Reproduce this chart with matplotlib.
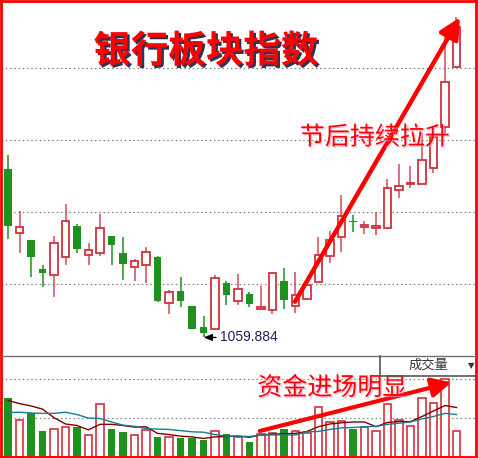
import numpy as np
import matplotlib
matplotlib.use('Agg')
import matplotlib.pyplot as plt
import matplotlib.patheffects as pe

plt.rcParams['font.family'] = ['Noto Sans CJK SC', 'DejaVu Sans']

# daily bars of the bank sector index
opens = [1176.9, 1132.2, 1127.6, 1107.4, 1103.0, 1115.5, 1137.3, 1116.9, 1118.3, 1130.3,
         1118.5, 1108.6, 1110.0, 1115.7, 1083.6, 1092.1, 1081.7, 1067.1, 1065.5, 1097.7,
         1085.0, 1090.1, 1079.8, 1078.7, 1099.1, 1081.7, 1086.4, 1098.2, 1116.2, 1129.4,
         1140.5, 1136.4, 1135.7, 1136.1, 1162.1, 1166.2, 1166.2, 1177.3, 1205.8, 1247.5]
highs = [1186.6, 1147.7, 1127.6, 1110.2, 1130.3, 1152.6, 1138.7, 1125.5, 1145.6, 1130.3,
         1129.6, 1114.4, 1122.7, 1116.7, 1092.6, 1101.9, 1081.7, 1074.8, 1103.0, 1099.1,
         1103.9, 1091.4, 1095.6, 1105.3, 1107.9, 1105.3, 1096.3, 1129.6, 1134.0, 1158.8,
         1144.9, 1140.7, 1147.0, 1169.7, 1180.1, 1178.9, 1201.9, 1199.3, 1274.6, 1282.6]
lows = [1128.0, 1118.7, 1102.1, 1095.1, 1088.2, 1110.2, 1118.7, 1110.2, 1116.7, 1110.2,
        1099.8, 1099.3, 1097.9, 1084.7, 1076.0, 1081.2, 1066.0, 1059.884, 1065.4, 1082.6,
        1082.6, 1080.8, 1078.9, 1076.4, 1079.6, 1076.7, 1086.4, 1098.2, 1111.8, 1119.4,
        1132.9, 1131.9, 1131.2, 1135.0, 1156.9, 1163.5, 1166.2, 1174.3, 1201.9, 1247.5]
closes = [1137.5, 1136.4, 1116.0, 1104.8, 1125.3, 1140.5, 1121.5, 1120.4, 1135.7, 1124.3,
          1111.1, 1112.8, 1119.0, 1085.2, 1091.4, 1085.4, 1066.0, 1063.2, 1101.0, 1089.6,
          1093.3, 1082.9, 1080.8, 1104.6, 1086.1, 1089.4, 1096.3, 1116.9, 1127.6, 1144.0,
          1140.1, 1137.8, 1137.1, 1163.5, 1164.8, 1166.9, 1182.9, 1199.3, 1237.1, 1275.3]

# volume and its two moving averages
volume = [151, 94, 112, 67, 71, 77, 77, 56, 135, 72, 65, 56, 69, 52, 51, 49, 49, 44, 67, 59,
          52, 39, 59, 61, 72, 66, 61, 128, 89, 93, 73, 78, 67, 135, 94, 79, 150, 138, 200, 67]
vol_ma5 = [145, 137, 131, 123, 101, 85, 81, 70, 84, 84, 81, 77, 78, 61, 58, 54, 52, 48, 52, 53,
           54, 51, 57, 59, 60, 61, 66, 78, 85, 88, 90, 90, 78, 89, 91, 91, 104, 118, 132, 127]
vol_ma10 = [114, 115, 113, 112, 112, 115, 109, 100, 99, 90, 82, 79, 73, 72, 71, 68, 65, 64, 58, 54,
            54, 53, 57, 57, 57, 57, 65, 66, 71, 75, 76, 78, 79, 84, 87, 90, 98, 104, 112, 109]

price_grid = [1097, 1147, 1197, 1247]
volume_grid = [100, 200]
low_label = '1059.884'

RED = '#d2303c'
WICK_RED = '#d24a58'
GREEN = '#1f911f'
GRID = '#808080'

W, H = 478, 458
fig = plt.figure(figsize=(W / 100, H / 100), dpi=100)


def px_axes(x0, y0, x1, y1):
    # axes placed by pixel box (top-left origin)
    return fig.add_axes([x0 / W, 1 - y1 / H, (x1 - x0) / W, (y1 - y0) / H])


ax = px_axes(1, 1, 476, 355)
axv = px_axes(1, 356, 476, 457.3)

days = np.arange(len(opens))
o = np.array(opens)
h = np.array(highs)
l = np.array(lows)
c = np.array(closes)
up = c >= o
body_lo = np.minimum(o, c)
body_h = np.maximum(np.abs(c - o), 0.8)

################################################################################
#                               price panel                                    #
################################################################################

for g in price_grid:
    ax.axhline(g, color=GRID, lw=0.9, ls=(0, (1.2, 2.2)), zorder=0)

ax.vlines(days, l, h, colors=[WICK_RED if u else GREEN for u in up], lw=1.1, zorder=1)
ax.bar(days[up], body_h[up], bottom=body_lo[up], width=0.68,
       facecolor='white', edgecolor=RED, linewidth=1.3, zorder=2)
ax.bar(days[~up], body_h[~up], bottom=body_lo[~up], width=0.68,
       color=GREEN, linewidth=0, zorder=2)

imin = int(np.argmin(l))
ax.annotate(low_label, xy=(imin, l[imin]), xytext=(12, 0), textcoords='offset points',
            va='center', ha='left', fontsize=10, color='#202060', family='Liberation Sans',
            arrowprops=dict(arrowstyle='-|>,head_length=0.5,head_width=0.2', color='black',
                            lw=1, shrinkA=1, shrinkB=0))

ax.set_xlim(-0.609, 40.696)
ax.set_ylim(1047.7, 1293.5)

ax.annotate('', xy=(39.3, 1282.2), xytext=(24.96, 1084.7),
            arrowprops=dict(arrowstyle='-|>,head_length=0.9,head_width=0.45', color='#ff0000',
                            lw=3.2, shrinkA=0, shrinkB=0, mutation_scale=14), zorder=5)

ax.text(17.2, 1258.8, '银行板块指数', fontsize=27, fontweight='bold', color='#ff0000',
        ha='center', va='center', zorder=6,
        path_effects=[pe.withSimplePatchShadow(offset=(1.6, -1.6), shadow_rgbFace='#1a1a40', alpha=0.9)])
ax.text(31.9, 1198.7, '节后持续拉升', fontsize=18, color='#ff0000', ha='center', va='center', zorder=6,
        path_effects=[pe.withSimplePatchShadow(offset=(1, -1), shadow_rgbFace='#ff99cc', alpha=0.6)])

################################################################################
#                               volume panel                                   #
################################################################################

for g in volume_grid:
    axv.axhline(g, color=GRID, lw=0.9, ls=(0, (1.2, 2.2)), zorder=0)

vol = np.array(volume)
axv.bar(days[up], vol[up], width=0.68, facecolor='white', edgecolor=RED, linewidth=1.2, zorder=2)
axv.bar(days[~up], vol[~up], width=0.68, color=GREEN, linewidth=0, zorder=2)
axv.plot(days, vol_ma5, color='#800000', lw=1, zorder=3)
axv.plot(days, vol_ma10, color='#118090', lw=1, zorder=3)

axv.set_xlim(-0.609, 40.696)
axv.set_ylim(0, 258.3)

axv.annotate('', xy=(38.55, 191), xytext=(21.9, 67),
             arrowprops=dict(arrowstyle='-|>,head_length=0.9,head_width=0.45', color='#ff0000',
                             lw=3, shrinkA=0, shrinkB=0, mutation_scale=13), zorder=5)
axv.text(28.2, 176.7, '资金进场明显', fontsize=18, color='#ff0000', ha='center', va='center', zorder=6,
         path_effects=[pe.withSimplePatchShadow(offset=(1, -1), shadow_rgbFace='#ff99cc', alpha=0.6)])

# indicator selector box in the panel header
bx0, by0 = 0.798, 0.8026
axv.plot([bx0, bx0, 1.0], [1.0, by0, by0], transform=axv.transAxes, color='#555555', lw=1.2,
         clip_on=False, zorder=6)
axv.text(0.90, 0.905, '成交量', transform=axv.transAxes, fontsize=9.5, color='#333333',
         ha='center', va='center')
axv.text(0.99, 0.905, '▼', transform=axv.transAxes, fontsize=6, color='#333333',
         ha='center', va='center', family=['DejaVu Sans'])

# frames
for a in (ax, axv):
    a.set_xticks([])
    a.set_yticks([])
    for s in ('left', 'right'):
        a.spines[s].set_color('#ff0000')
        a.spines[s].set_linewidth(2)
ax.spines['top'].set_color('#ff0000')
ax.spines['top'].set_linewidth(2)
ax.spines['bottom'].set_visible(False)
axv.spines['bottom'].set_color('#ff0000')
axv.spines['bottom'].set_linewidth(2)
axv.spines['top'].set_color('#707070')
axv.spines['top'].set_linewidth(1)

fig.savefig('out.png', dpi=100)
